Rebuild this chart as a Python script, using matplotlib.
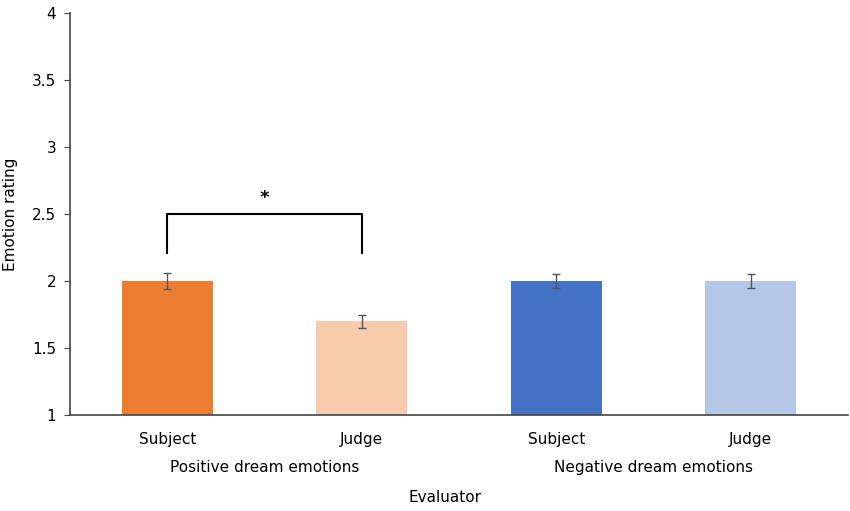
import numpy as np
import matplotlib.pyplot as plt

evaluators = ['Subject', 'Judge', 'Subject', 'Judge']
groups = ['Positive dream emotions', 'Negative dream emotions']
ratings = [2.0, 1.7, 2.0, 2.0]
errors = [0.06, 0.05, 0.05, 0.05]
colors = ['#ED7D31', '#F8CBAD', '#4472C4', '#B4C7E7']

fig = plt.figure(figsize=(8.5, 5.11), dpi=100)
ax = fig.add_axes([70/850, 1-415/511, 778/850, 402/511])

x = np.arange(len(ratings))
ax.bar(x, [r - 1 for r in ratings], bottom=1, width=0.47, color=colors)
ax.errorbar(x, ratings, yerr=errors, fmt='none', ecolor='#555555',
            elinewidth=1, capsize=3, capthick=1)

ax.set_xlim(-0.5, 3.5)
ax.set_ylim(1, 4)
ax.set_yticks(np.arange(1, 4.01, 0.5))
ax.set_yticklabels(['1', '1.5', '2', '2.5', '3', '3.5', '4'], fontsize=11)
ax.set_xticks(x)
ax.set_xticklabels(evaluators, fontsize=11)
ax.tick_params(axis='x', length=0, pad=12)
ax.tick_params(axis='y', length=4, direction='out', color='#444444', pad=6)
for s in ['top', 'right']:
    ax.spines[s].set_visible(False)
ax.spines['left'].set_color('#444444')
ax.spines['bottom'].set_color('#444444')
ax.spines['left'].set_linewidth(1.2)
ax.spines['bottom'].set_linewidth(1.2)

# group labels
for i, g in enumerate(groups):
    ax.text(2 * i + 0.5, -0.13, g, transform=ax.get_xaxis_transform(),
            ha='center', va='center', fontsize=11)
fig.text(445/850, 1-497/511, 'Evaluator', ha='center', va='center', fontsize=11)
ax.set_ylabel('Emotion rating', fontsize=11, labelpad=10)

# significance bracket
ax.plot([0, 0, 1, 1], [2.21, 2.5, 2.5, 2.21], color='black', lw=1.5)
ax.text(0.5, 2.62, '*', ha='center', va='center', fontsize=13, fontweight='bold')

fig.savefig('out.png', dpi=100)
